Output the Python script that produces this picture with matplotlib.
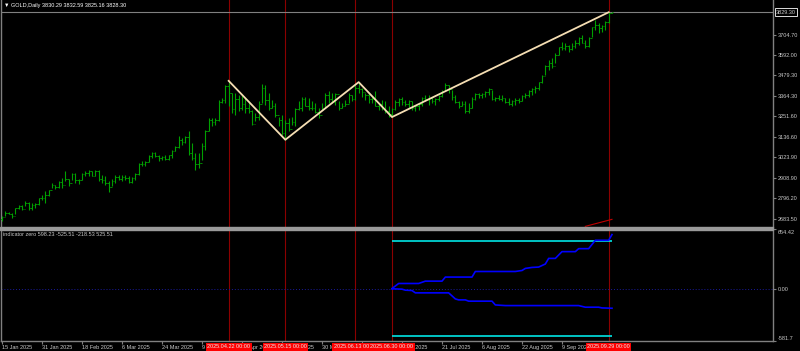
import numpy as np
import matplotlib.pyplot as plt
from matplotlib.patches import Rectangle
import matplotlib.transforms as mtransforms

plt.rcParams['font.family'] = ['Liberation Sans', 'DejaVu Sans']

# daily bars, index 0 = 15 Jan 2025
highs = [2696, 2724, 2719, 2715, 2743, 2761, 2761, 2780, 2774, 2767,
         2770, 2798, 2816, 2835, 2844, 2881, 2872, 2890, 2909, 2946,
         2903, 2936, 2936, 2903, 2936, 2946, 2951, 2946, 2955, 2951,
         2927, 2918, 2890, 2903, 2927, 2927, 2927, 2927, 2918, 2914,
         2936, 2992, 3001, 3001, 3038, 3051, 3051, 3038, 3033, 3038,
         3038, 3066, 3088, 3140, 3130, 3140, 3167, 3103, 3047, 3047,
         3103, 3177, 3241, 3241, 3241, 3343, 3352, 3426, 3448, 3380,
         3380, 3371, 3371, 3352, 3334, 3287, 3269, 3334, 3432, 3426,
         3380, 3343, 3324, 3250, 3260, 3232, 3241, 3250, 3297, 3334,
         3361, 3361, 3352, 3334, 3324, 3297, 3324, 3380, 3389, 3380,
         3380, 3334, 3324, 3343, 3380, 3371, 3426, 3441, 3408, 3380,
         3380, 3361, 3389, 3324, 3343, 3334, 3306, 3300, 3343, 3352,
         3361, 3343, 3343, 3334, 3315, 3324, 3361, 3371, 3371, 3361,
         3352, 3371, 3398, 3435, 3426, 3398, 3371, 3334, 3334, 3334,
         3324, 3361, 3380, 3380, 3380, 3389, 3408, 3398, 3361, 3371,
         3371, 3352, 3352, 3343, 3352, 3352, 3371, 3380, 3398, 3408,
         3417, 3444, 3481, 3537, 3565, 3574, 3601, 3638, 3666, 3657,
         3648, 3657, 3675, 3694, 3703, 3675, 3694, 3749, 3786, 3768,
         3758, 3782, 3829, 3832.59]
lows = [2669, 2696, 2706, 2687, 2706, 2737, 2733, 2752, 2733, 2730,
        2743, 2761, 2789, 2770, 2807, 2853, 2848, 2853, 2853, 2890,
        2863, 2900, 2881, 2877, 2900, 2918, 2922, 2918, 2918, 2890,
        2881, 2872, 2829, 2863, 2881, 2896, 2890, 2896, 2881, 2881,
        2900, 2927, 2973, 2977, 2996, 3020, 3025, 3001, 3007, 3010,
        3010, 3020, 3057, 3075, 3094, 3103, 3038, 3010, 2955, 2964,
        3010, 3066, 3167, 3195, 3204, 3223, 3324, 3324, 3306, 3269,
        3260, 3278, 3287, 3269, 3269, 3204, 3223, 3232, 3324, 3315,
        3287, 3297, 3250, 3195, 3149, 3121, 3167, 3204, 3195, 3287,
        3278, 3306, 3287, 3287, 3269, 3241, 3287, 3297, 3324, 3324,
        3315, 3287, 3297, 3306, 3324, 3334, 3343, 3380, 3361, 3343,
        3324, 3324, 3306, 3287, 3287, 3269, 3250, 3247, 3287, 3306,
        3315, 3306, 3297, 3287, 3278, 3287, 3306, 3334, 3315, 3324,
        3315, 3334, 3361, 3389, 3380, 3343, 3324, 3297, 3306, 3269,
        3269, 3297, 3343, 3352, 3352, 3361, 3371, 3343, 3334, 3343,
        3334, 3324, 3315, 3310, 3315, 3324, 3334, 3352, 3361, 3371,
        3380, 3398, 3435, 3481, 3509, 3518, 3546, 3592, 3620, 3620,
        3611, 3620, 3629, 3648, 3657, 3629, 3638, 3694, 3731, 3712,
        3722, 3731, 3768, 3825.16]
closes = [2690, 2715, 2710, 2700, 2740, 2755, 2738, 2770, 2740, 2760,
          2765, 2795, 2800, 2815, 2840, 2870, 2860, 2885, 2870, 2905,
          2880, 2930, 2895, 2900, 2930, 2935, 2945, 2920, 2950, 2905,
          2895, 2880, 2860, 2890, 2915, 2905, 2915, 2910, 2885, 2910,
          2930, 2985, 2985, 2995, 3030, 3045, 3030, 3020, 3025, 3015,
          3035, 3060, 3080, 3120, 3110, 3135, 3050, 3020, 2985, 2990,
          3085, 3170, 3230, 3220, 3230, 3330, 3340, 3420, 3380, 3290,
          3350, 3300, 3320, 3300, 3280, 3210, 3250, 3320, 3410, 3340,
          3300, 3310, 3260, 3230, 3160, 3215, 3180, 3220, 3290, 3295,
          3350, 3310, 3300, 3295, 3275, 3260, 3300, 3370, 3350, 3330,
          3375, 3300, 3310, 3320, 3370, 3345, 3410, 3400, 3385, 3370,
          3345, 3350, 3310, 3320, 3300, 3280, 3265, 3290, 3330, 3345,
          3330, 3320, 3335, 3300, 3310, 3320, 3355, 3345, 3355, 3335,
          3350, 3365, 3390, 3425, 3400, 3360, 3330, 3310, 3320, 3280,
          3295, 3350, 3375, 3370, 3375, 3385, 3400, 3350, 3355, 3345,
          3355, 3330, 3320, 3335, 3340, 3335, 3365, 3370, 3390, 3400,
          3410, 3440, 3475, 3530, 3545, 3530, 3590, 3635, 3630, 3640,
          3625, 3640, 3660, 3685, 3660, 3640, 3685, 3745, 3760, 3740,
          3750, 3775, 3826, 3828.30]
first_open = 2680

# zigzag pivots (bar index, taken from high/low)
zz_idx = [68, 85, 107, 117, 182]
zz_kind = ['h', 'l', 'h', 'l', 'h']

# vertical lines
vl_idx = [68, 85, 106, 117, 182]
vl_text = ["2025.04.22 00:00", "2025.05.15 00:00", "2025.06.13 00:00",
           "2025.06.30 00:00", "2025.09.29 00:00"]

# time axis labels
tick_idx = [0, 12, 24, 36, 48, 60, 72, 84, 96, 108, 120, 132, 144, 156, 168]
tick_text = ["15 Jan 2025", "31 Jan 2025", "18 Feb 2025", "6 Mar 2025", "24 Mar 2025",
             "9 Apr 2025", "25 Apr 2025", "13 May 2025", "30 May 2025", "17 Jun 2025",
             "1 Jul 2025", "21 Jul 2025", "6 Aug 2025", "22 Aug 2025", "9 Sep 2025"]

price_ticks = [3704.70, 3592.00, 3479.30, 3364.30, 3251.60, 3136.60,
               3023.90, 2908.90, 2796.20, 2683.50]
last_price = 3829.30
bid = 3828.30

# small red trend segment near the bottom right
trend_x = [175, 183]
trend_y = [2640, 2679]

# indicator window
up_x = [117, 119, 125, 127, 132, 133, 141, 142, 154, 156, 157, 159, 161, 163,
        164, 166, 168, 172, 173, 176, 178, 182, 183]
up_y = [0, 56, 56, 82, 82, 127, 127, 189, 189, 200, 223, 234, 238, 272,
        334, 334, 409, 409, 442, 442, 535, 535, 598.23]
dn_x = [117, 120, 121, 123, 124, 134, 136, 137, 139, 140, 147, 148, 151, 173,
        175, 179, 180, 183]
dn_y = [-3, -7, -18, -22, -48, -48, -115, -126, -126, -140, -140, -182, -189,
        -189, -207, -207, -215, -218.53]
band = 525.51
band_start, band_end = 117, 183

TXT = '#c8c8c8'
GRID = '#808080'
FS = 4

fig = plt.figure(figsize=(8, 3.51), dpi=100, facecolor='black')
ax = fig.add_axes([1 / 800, (351 - 226.5) / 351, 772 / 800, 226.5 / 351])
ax2 = fig.add_axes([1 / 800, (351 - 341) / 351, 772 / 800, (341 - 229.5) / 351])
fig.patches.append(Rectangle((0, (351 - 229.5) / 351), 773 / 800, 3 / 351,
                             transform=fig.transFigure, color='#9a9a9a'))

for a in (ax, ax2):
    a.set_facecolor('black')
    a.set_xlim(-0.3, 231.3)
    for s in a.spines.values():
        s.set_color(GRID)
        s.set_linewidth(1)
    a.spines['top'].set_visible(False)
    for i in vl_idx:
        a.axvline(i, color='#8b0000', lw=0.8, zorder=1)

ax.spines['bottom'].set_visible(False)

# bars
n = len(closes)
idx = np.arange(n)
opens = [first_open] + closes[:-1]
ax.vlines(idx, lows, highs, color='#00a000', lw=0.8, zorder=3)
ax.hlines(opens, idx - 0.45, idx, color='#00a000', lw=0.6, zorder=3)
ax.hlines(closes, idx, idx + 0.45, color='#00a000', lw=0.6, zorder=3)

zz_y = [highs[i] if k == 'h' else lows[i] for i, k in zip(zz_idx, zz_kind)]
ax.plot(zz_idx, zz_y, color='#f5deb3', lw=1.3, zorder=4)
ax.plot(trend_x, trend_y, color='#c00000', lw=0.8, zorder=4)
ax.axhline(bid, color=GRID, lw=0.8, zorder=2)

ax.set_ylim(2639.2, 3897)
ax.set_xticks([])
ax.yaxis.tick_right()
ax.set_yticks(price_ticks, [f"{v:.2f}" for v in price_ticks])
ax.tick_params(axis='y', colors=GRID, labelcolor=TXT, labelsize=FS, length=2, pad=1.5)
trans = mtransforms.blended_transform_factory(ax.transAxes, ax.transData)
ax.text(1.004, last_price, f"{last_price:.2f}", transform=trans, ha='left', va='center',
        fontsize=FS, color=TXT, clip_on=False,
        bbox=dict(facecolor='black', edgecolor='white', lw=0.6, boxstyle='square,pad=0.25'))
ax.text(0.004, 0.985, "\u25bc GOLD,Daily 3830.29 3832.59 3825.16 3828.30",
        transform=ax.transAxes, ha='left', va='top', fontsize=FS, color='white')

# indicator
ax2.axhline(0, color='#1a1a9c', lw=0.7, ls=(0, (1, 2)), zorder=1)
ax2.hlines([band, -band], band_start, band_end, color='#00e5e5', lw=1.2, zorder=3)
ax2.plot(up_x, up_y, color='#0000ff', lw=1.2, zorder=4)
ax2.plot(dn_x, dn_y, color='#0000ff', lw=1.2, zorder=4)
ax2.set_ylim(-581.7, 654.42)
ax2.yaxis.tick_right()
ax2.set_yticks([654.42, 0, -581.7], ["654.42", "0.00", "-581.7"])
ax2.tick_params(axis='y', colors=GRID, labelcolor=TXT, labelsize=FS, length=2, pad=1.5)
ylab = ax2.get_yticklabels()
ylab[0].set_va('top')
ylab[2].set_va('bottom')
ax2.text(0.003, 0.975, "indicator zero 598.23 -525.51 -218.53 525.51",
         transform=ax2.transAxes, ha='left', va='top', fontsize=FS, color=TXT)

ax2.set_xticks(tick_idx, tick_text)
ax2.tick_params(axis='x', colors=GRID, labelcolor=TXT, labelsize=FS, length=2, pad=1)
for lbl in ax2.get_xticklabels():
    lbl.set_ha('left')

for i, t in zip(vl_idx, vl_text):
    ax2.annotate(t, xy=(i, 0), xycoords=('data', 'axes fraction'),
                 xytext=(0, -4.2), textcoords='offset points', ha='center', va='center',
                 fontsize=FS, color='#e8e8e8', zorder=10, annotation_clip=False,
                 bbox=dict(facecolor='#ff0000', edgecolor='none', boxstyle='square,pad=0.25'))

fig.savefig('out.png', dpi=100, facecolor='black')
